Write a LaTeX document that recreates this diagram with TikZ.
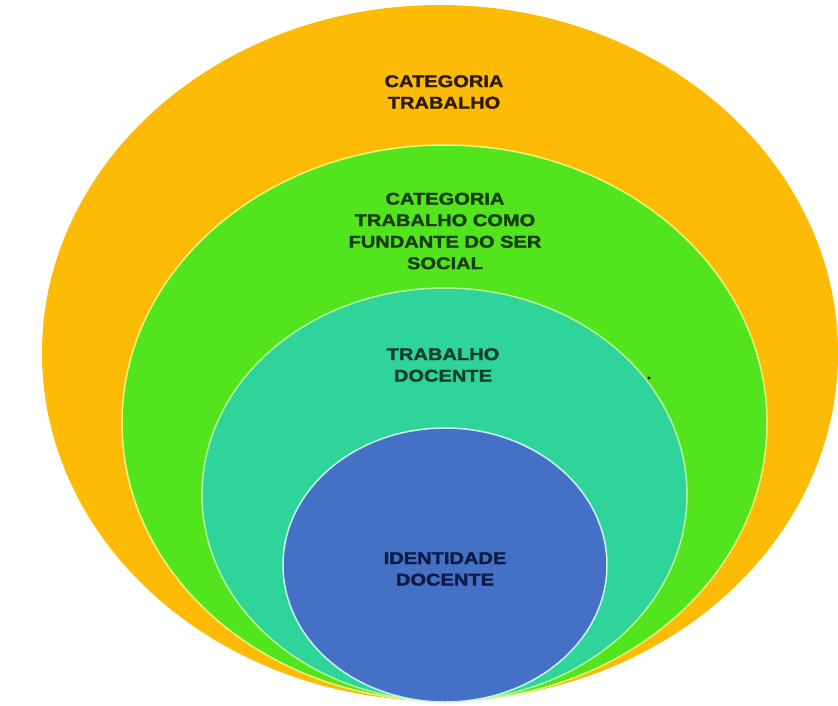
\documentclass[tikz,border=0pt]{standalone}
\usepackage{fontspec}
\setmainfont{Liberation Sans}[BoldFeatures={FakeBold=1.6}]
\definecolor{cOrange}{HTML}{FDBB05}
\definecolor{cGreen}{HTML}{52E41C}
\definecolor{cTeal}{HTML}{2FD49A}
\definecolor{cBlue}{HTML}{4471C6}
\definecolor{lGreen}{HTML}{E4F87A}
\definecolor{lTeal}{HTML}{B4F29A}
\definecolor{lBlue}{HTML}{C8F4F0}
\definecolor{tOrange}{HTML}{2E1C06}
\definecolor{tGreen}{HTML}{163E0E}
\definecolor{tTeal}{HTML}{0E3E2A}
\definecolor{tBlue}{HTML}{0C1A44}
\begin{document}
\begin{tikzpicture}[x=1pt,y=-1pt,
  lbl/.style={align=center, inner sep=0pt,
    font=\fontsize{17}{21.5}\selectfont\bfseries,
    xscale=1.18, transform shape},
  ring/.style={line width=1.5pt}]
\useasboundingbox (0,0) rectangle (838,705);
\fill[white] (0,0) rectangle (838,705);
% nested ellipses, all touching near the bottom
\fill[cOrange] (440,353) ellipse [x radius=398, y radius=348];
\filldraw[ring, fill=cGreen, draw=lGreen] (444.5,423) ellipse [x radius=322.5, y radius=278];
\filldraw[ring, fill=cTeal, draw=lTeal] (444.5,494.5) ellipse [x radius=242.5, y radius=206.5];
\filldraw[ring, fill=cBlue, draw=lBlue] (445,565) ellipse [x radius=162, y radius=137];
\fill[black] (649,378) circle [radius=1.6];
% labels
\node[lbl, text=tOrange] (t1) at (444,92) {CATEGORIA\\TRABALHO};
\node[lbl, text=tGreen] (t2) at (445,231) {CATEGORIA\\TRABALHO COMO\\FUNDANTE DO SER\\SOCIAL};
\node[lbl, text=tTeal] (t3) at (443,365) {TRABALHO\\DOCENTE};
\node[lbl, text=tBlue] (t4) at (445,569) {IDENTIDADE\\DOCENTE};
\end{tikzpicture}
\end{document}
